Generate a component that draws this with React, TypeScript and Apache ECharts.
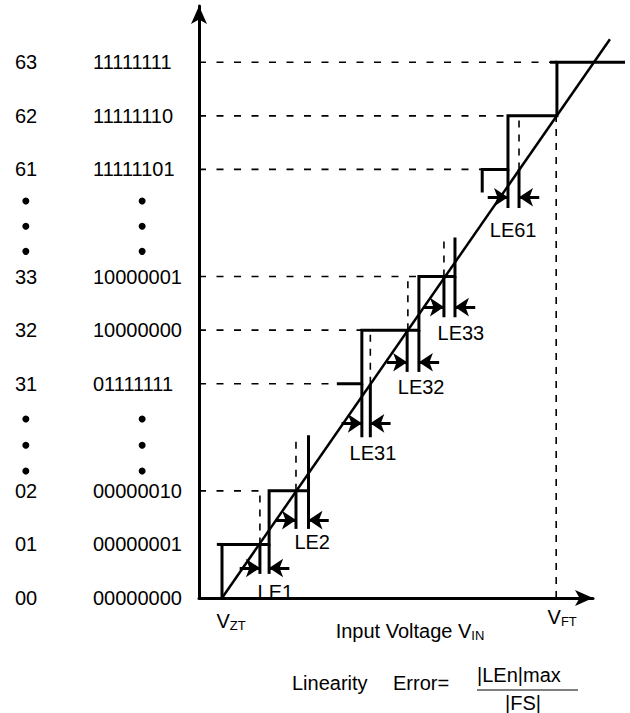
import React, { useEffect, useRef } from "react";
import * as echarts from "echarts";

// Display levels on the y axis (gaps hold the vertical ellipses)
const levelPos = [0, 1, 2, 4, 5, 6, 8, 9, 10];
const decimalCodes = ["00", "01", "02", "31", "32", "33", "61", "62", "63"];
const binaryCodes = ["00000000", "00000001", "00000010", "01111111", "10000000", "10000001", "11111101", "11111110", "11111111"];
const ellipsisY = [7.41, 6.94, 6.47, 3.34, 2.85, 2.37];

// Actual transfer function pieces (x: LSB from V_ZT, y: display level)
const stairSegments = [
  [[0, 0], [0, 1], [1.28, 1], [1.28, 2], [2.35, 2], [2.35, 3.04]],
  [[-0.14, 1], [0, 1]],
  [[3.12, 4], [3.8, 4], [3.8, 5], [5.35, 5], [5.35, 6], [6.33, 6], [6.33, 6.73]],
  [[7.07, 7.57], [7.07, 8], [7.77, 8], [7.77, 9], [9.1, 9], [9.1, 10], [10.95, 10]],
  [[8.91, 10], [9.1, 10]],
];
const idealLine = [[0, 0], [10.54, 10.43]];

// Linearity error markers
const leNames = ["LE1", "LE2", "LE31", "LE32", "LE33", "LE61"];
const leLevel = [1, 2, 4, 5, 6, 8];
const leLeftX = [1.03, 2.01, 3.8, 5.03, 6.03, 7.77];
const leRightX = [1.28, 2.35, 4.03, 5.35, 6.33, 8.07];
const leBarBottom = [0.45, 1.29, 3.0, 4.22, 5.24, 7.28];
const leArrowY = [0.56, 1.455, 3.26, 4.4, 5.43, 7.48];
const leLabelX = [1.45, 2.45, 4.1, 5.41, 6.49, 7.91];
const leLabelY = [0.12, 1.04, 2.7, 3.94, 4.94, 6.87];

// Dashed guides
const guideLevels = [2, 4, 5, 6, 8, 9, 10];
const guideEndX = [1.28, 3.12, 3.8, 5.35, 7.07, 7.77, 8.91];
const idealX = [1.03, 2.01, 4.03, 5.05, 6.03, 8.07, 9.08];
const idealFromY = [1, 2, 4, 5, 6, 8, 0];
const idealToY = [2, 3.0, 5, 6, 6.73, 9, 9];

const vZT = 0;
const vFT = 9.08;

const X_MIN = -0.625;
const X_MAX = 10.08;
const ARROW_LEN = 0.55;
const DEC_COL_X = -5.33;
const BIN_COL_X = -2.17;

const FONT = '"Liberation Sans", Arial, Helvetica, sans-serif';

export default function App() {
  const ref = useRef<HTMLDivElement>(null);
  useEffect(() => {
    if (!ref.current) return;
    const chart = echarts.init(ref.current, undefined, { renderer: "svg" });

    const horizontalGuides = guideLevels.map((lv, i) => ({ coords: [[X_MIN, lv], [guideEndX[i], lv]] }));
    const verticalGuides = idealX.map((x, i) => ({ coords: [[x, idealFromY[i]], [x, idealToY[i]]] }));
    const bars: any[] = [];
    const arrows: any[] = [];
    leNames.forEach((_, i) => {
      bars.push({ coords: [[leLeftX[i], leBarBottom[i]], [leLeftX[i], leLevel[i]]] });
      bars.push({ coords: [[leRightX[i], leBarBottom[i]], [leRightX[i], leLevel[i]]] });
      arrows.push({ coords: [[leLeftX[i] - ARROW_LEN, leArrowY[i]], [leLeftX[i], leArrowY[i]]] });
      arrows.push({ coords: [[leRightX[i] + ARROW_LEN, leArrowY[i]], [leRightX[i], leArrowY[i]]] });
    });

    const dots: number[][] = [];
    ellipsisY.forEach((y) => {
      dots.push([DEC_COL_X, y]);
      dots.push([BIN_COL_X, y]);
    });

    const option: any = {
      animation: false,
      backgroundColor: "#fff",
      textStyle: { fontFamily: FONT },
      grid: { left: 199, right: 37, top: 6, bottom: 115, containLabel: false, outerBoundsMode: "none" },
      xAxis: {
        type: "value",
        min: X_MIN,
        max: X_MAX,
        axisLine: {
          show: true,
          onZero: false,
          symbol: ["none", "arrow"],
          symbolSize: [12, 18],
          lineStyle: { color: "#000", width: 3 },
        },
        axisTick: { show: false },
        axisLabel: { show: false },
        splitLine: { show: false },
        name: "{t|Input Voltage V}{s|IN}",
        nameLocation: "middle",
        nameGap: 22,
        nameTextStyle: {
          padding: [0, 0, 0, 28],
          rich: {
            t: { fontSize: 20, fontFamily: FONT, color: "#000" },
            s: { fontSize: 13, fontFamily: FONT, color: "#000", padding: [9, 0, 0, 0] },
          },
        },
      },
      yAxis: {
        type: "value",
        min: 0,
        max: 11.05,
        interval: 1,
        axisLine: {
          show: true,
          onZero: false,
          symbol: ["none", "arrow"],
          symbolSize: [12, 18],
          lineStyle: { color: "#000", width: 3 },
        },
        axisTick: { show: false },
        splitLine: { show: false },
        axisLabel: {
          margin: 6,
          formatter: (v: number) => {
            const idx = levelPos.indexOf(Math.round(v * 100) / 100);
            if (idx < 0) return "";
            return `{d|${decimalCodes[idx]}}{b|${binaryCodes[idx]}}`;
          },
          rich: {
            d: { width: 78, align: "left", fontSize: 20, fontFamily: FONT, color: "#000" },
            b: { width: 100, align: "left", fontSize: 20, fontFamily: FONT, color: "#000" },
          },
        },
      },
      series: [
        {
          name: "guides-h",
          type: "lines",
          coordinateSystem: "cartesian2d",
          polyline: true,
          clip: false,
          silent: true,
          lineStyle: { color: "#000", width: 1.6, type: [7, 10.5], opacity: 1 },
          data: horizontalGuides,
        },
        {
          name: "guides-v",
          type: "lines",
          coordinateSystem: "cartesian2d",
          polyline: true,
          clip: false,
          silent: true,
          lineStyle: { color: "#000", width: 1.6, type: [7, 7], opacity: 1 },
          data: verticalGuides,
        },
        {
          name: "ideal",
          type: "lines",
          coordinateSystem: "cartesian2d",
          polyline: true,
          clip: false,
          silent: true,
          lineStyle: { color: "#000", width: 2.5, opacity: 1 },
          data: [{ coords: idealLine }],
        },
        {
          name: "actual",
          type: "lines",
          coordinateSystem: "cartesian2d",
          polyline: true,
          clip: false,
          silent: true,
          lineStyle: { color: "#000", width: 3, opacity: 1, join: "miter", cap: "butt" },
          data: stairSegments.map((c) => ({ coords: c })),
        },
        {
          name: "bars",
          type: "lines",
          coordinateSystem: "cartesian2d",
          polyline: true,
          clip: false,
          silent: true,
          lineStyle: { color: "#000", width: 3, opacity: 1 },
          data: bars,
        },
        {
          name: "arrows",
          type: "lines",
          coordinateSystem: "cartesian2d",
          clip: false,
          silent: true,
          symbol: ["none", "arrow"],
          symbolSize: 14,
          lineStyle: { color: "#000", width: 3, opacity: 1 },
          itemStyle: { color: "#000" },
          data: arrows,
        },
        {
          name: "le-labels",
          type: "scatter",
          clip: false,
          silent: true,
          symbolSize: 0,
          itemStyle: { color: "#000", opacity: 1 },
          data: leNames.map((n, i) => ({ value: [leLabelX[i], leLabelY[i]], name: n })),
          label: {
            show: true,
            position: [0, 0],
            align: "center",
            verticalAlign: "middle",
            formatter: (p: any) => p.name,
            fontSize: 20,
            fontFamily: FONT,
            color: "#000",
            opacity: 1,
          },
        },
        {
          name: "ellipsis",
          type: "scatter",
          clip: false,
          silent: true,
          symbol: "circle",
          symbolSize: 7,
          itemStyle: { color: "#000", opacity: 1 },
          data: dots,
        },
        {
          name: "v-labels",
          type: "scatter",
          clip: false,
          silent: true,
          symbolSize: 0,
          itemStyle: { color: "#000", opacity: 1 },
          data: [
            { value: [vZT, 0], name: "ZT", label: { offset: [9, 0] } },
            { value: [vFT, 0], name: "FT", label: { offset: [6, -4] } },
          ],
          label: {
            show: true,
            position: "bottom",
            distance: 12,
            color: "#000",
            opacity: 1,
            formatter: (p: any) => `{v|V}{s|${p.name}}`,
            rich: {
              v: { fontSize: 20, fontFamily: FONT, color: "#000" },
              s: { fontSize: 13, fontFamily: FONT, color: "#000", padding: [9, 0, 0, 0] },
            },
          },
        },
      ],
      graphic: [
        { type: "text", x: 292, y: 683, style: { text: "Linearity", fontSize: 20, fontFamily: FONT, fill: "#000", align: "left", verticalAlign: "middle" } },
        { type: "text", x: 393, y: 683, style: { text: "Error=", fontSize: 20, fontFamily: FONT, fill: "#000", align: "left", verticalAlign: "middle" } },
        { type: "text", x: 477, y: 675, style: { text: "|LEn|max", fontSize: 20, fontFamily: FONT, fill: "#000", align: "left", verticalAlign: "middle" } },
        { type: "line", shape: { x1: 477, y1: 690, x2: 578, y2: 690 }, style: { stroke: "#000", lineWidth: 1 } },
        { type: "text", x: 523, y: 703, style: { text: "|FS|", fontSize: 20, fontFamily: FONT, fill: "#000", align: "center", verticalAlign: "middle" } },
      ],
    };
    chart.setOption(option);
    return () => chart.dispose();
  }, []);
  return <div ref={ref} style={{ position: "fixed", left: 0, top: 0, width: 630, height: 713, background: "#fff" }} />;
}
